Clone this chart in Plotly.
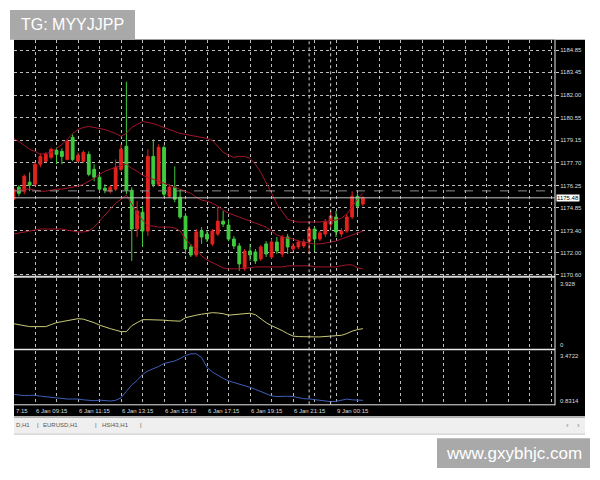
import plotly.graph_objects as go

W, H = 600, 480

# ---------------- data ----------------
bar_index = list(range(66))

open_ = [1175.39, 1176.15, 1175.90, 1176.47, 1176.34, 1177.61, 1177.80, 1178.05, 1178.49, 1178.43,
         1177.92, 1179.32, 1177.80, 1177.80, 1178.24, 1177.29, 1176.79, 1176.09, 1175.90, 1176.03,
         1177.29, 1178.75, 1175.96, 1173.50, 1174.57, 1173.37, 1178.11, 1176.34, 1178.68, 1175.58,
         1176.15, 1175.52, 1174.32, 1172.36, 1171.85, 1173.37, 1173.18, 1172.55, 1173.18, 1174.00,
         1173.75, 1172.86, 1172.42, 1170.97, 1172.10, 1172.04, 1171.60, 1172.55, 1171.72, 1172.67,
         1171.91, 1172.99, 1172.23, 1172.36, 1172.42, 1172.73, 1173.50, 1172.86, 1173.18, 1173.81,
         1174.26, 1173.18, 1173.37, 1174.26, 1175.58, 1175.08]
high = [1176.22, 1176.28, 1176.97, 1177.10, 1177.74, 1178.30, 1178.37, 1178.68, 1178.68, 1178.62,
        1179.19, 1179.51, 1178.37, 1178.49, 1178.43, 1177.61, 1176.97, 1176.34, 1176.28, 1177.92,
        1178.87, 1182.86, 1176.15, 1175.27, 1174.95, 1178.56, 1179.19, 1178.87, 1178.81, 1176.34,
        1177.48, 1176.03, 1174.51, 1172.55, 1173.50, 1173.62, 1173.37, 1173.50, 1174.89, 1174.64,
        1174.13, 1173.05, 1172.61, 1172.23, 1172.55, 1172.23, 1172.48, 1172.73, 1172.86, 1172.99,
        1173.12, 1173.18, 1172.61, 1172.80, 1172.86, 1173.69, 1173.62, 1173.37, 1174.13, 1174.64,
        1174.64, 1173.56, 1174.45, 1175.90, 1175.77, 1175.58]
low = [1175.20, 1175.58, 1175.71, 1175.90, 1176.22, 1177.42, 1177.74, 1177.92, 1177.61, 1177.61,
       1177.86, 1177.80, 1177.74, 1177.67, 1176.85, 1176.53, 1175.84, 1175.77, 1175.77, 1175.90,
       1177.17, 1175.71, 1171.47, 1172.99, 1172.36, 1173.05, 1176.15, 1176.22, 1175.52, 1175.46,
       1175.20, 1174.13, 1171.91, 1171.72, 1171.72, 1172.55, 1172.67, 1172.42, 1173.05, 1173.62,
       1172.73, 1172.23, 1170.84, 1170.84, 1171.47, 1171.28, 1171.47, 1171.72, 1171.60, 1171.91,
       1171.72, 1171.91, 1172.10, 1172.23, 1172.29, 1171.91, 1172.10, 1172.73, 1172.99, 1173.62,
       1172.99, 1172.99, 1173.25, 1174.13, 1174.26, 1174.95]
close = [1176.03, 1175.77, 1176.85, 1176.28, 1177.61, 1178.11, 1178.24, 1178.56, 1178.24, 1178.11,
         1179.06, 1177.92, 1178.18, 1178.37, 1176.97, 1176.79, 1176.03, 1175.96, 1176.15, 1177.42,
         1178.56, 1175.96, 1173.50, 1174.64, 1173.37, 1178.11, 1176.34, 1178.68, 1175.71, 1176.15,
         1175.39, 1174.26, 1172.23, 1171.85, 1173.31, 1172.99, 1172.86, 1173.37, 1174.00, 1173.81,
         1172.86, 1172.42, 1171.28, 1172.10, 1171.85, 1171.47, 1172.36, 1171.91, 1172.67, 1172.10,
         1172.99, 1172.36, 1172.42, 1172.67, 1172.67, 1173.50, 1172.86, 1173.25, 1173.94, 1174.32,
         1173.31, 1173.37, 1174.26, 1175.58, 1174.95, 1175.48]

bb_upper = [1179.25, 1179.06, 1178.81, 1178.56, 1178.43, 1178.24, 1178.30, 1178.37, 1178.62, 1178.87,
            1179.19, 1179.57, 1179.82, 1179.95, 1180.01, 1179.95, 1179.89, 1179.82, 1179.69, 1179.57,
            1179.38, 1179.57, 1179.95, 1180.14, 1180.33, 1180.26, 1180.20, 1180.07, 1179.95, 1179.82,
            1179.69, 1179.57, 1179.51, 1179.44, 1179.38, 1179.32, 1179.25, 1179.12, 1178.75, 1178.37,
            1178.18, 1178.05, 1178.11, 1178.11, 1177.99, 1177.61, 1177.10, 1176.47, 1175.77, 1175.08,
            1174.57, 1174.13, 1174.00, 1173.94, 1173.94, 1173.94, 1173.94, 1173.94, 1174.00, 1174.00,
            1174.07, 1174.19, 1174.45, 1174.95, 1175.39, 1175.77]
bb_middle = [1175.90, 1175.96, 1176.03, 1176.03, 1175.96, 1175.90, 1175.90, 1175.96, 1176.03, 1176.03,
             1176.09, 1176.15, 1176.22, 1176.34, 1176.53, 1176.72, 1176.97, 1177.17, 1177.29, 1177.42,
             1177.54, 1177.61, 1177.35, 1177.17, 1176.91, 1176.79, 1176.66, 1176.53, 1176.41, 1176.28,
             1176.15, 1176.03, 1175.90, 1175.77, 1175.52, 1175.33, 1175.27, 1175.14, 1174.95, 1174.70,
             1174.51, 1174.38, 1174.26, 1174.13, 1174.00, 1173.88, 1173.75, 1173.62, 1173.37, 1173.12,
             1172.99, 1172.93, 1172.86, 1172.73, 1172.67, 1172.61, 1172.55, 1172.55, 1172.61, 1172.67,
             1172.73, 1172.86, 1172.99, 1173.12, 1173.25, 1173.37]
bb_lower = [1173.18, 1173.25, 1173.31, 1173.37, 1173.43, 1173.50, 1173.50, 1173.50, 1173.50, 1173.50,
            1173.43, 1173.37, 1173.31, 1173.31, 1173.37, 1173.62, 1174.00, 1174.38, 1174.76, 1175.14,
            1175.39, 1175.65, 1175.08, 1174.51, 1174.07, 1173.69, 1173.69, 1173.62, 1173.62, 1173.62,
            1173.56, 1173.37, 1172.86, 1172.48, 1172.23, 1171.79, 1171.53, 1171.35, 1171.16, 1171.03,
            1170.97, 1170.97, 1170.97, 1171.03, 1171.03, 1171.09, 1171.09, 1171.09, 1171.09, 1171.09,
            1171.09, 1171.16, 1171.16, 1171.16, 1171.16, 1171.16, 1171.09, 1171.09, 1171.09, 1171.09,
            1171.09, 1171.16, 1171.22, 1171.22, 1171.03, 1170.97]

ind_yellow = [1.383, 1.328, 1.272, 1.217, 1.217, 1.217, 1.217, 1.328, 1.438, 1.494,
              1.549, 1.604, 1.660, 1.632, 1.549, 1.438, 1.300, 1.189, 1.106, 1.023,
              0.940, 0.940, 1.272, 1.438, 1.604, 1.604, 1.604, 1.604, 1.577, 1.549,
              1.521, 1.521, 1.715, 1.798, 1.853, 1.909, 1.964, 1.992, 1.975, 1.936,
              1.853, 1.881, 1.909, 1.964, 1.964, 1.881, 1.660, 1.438, 1.272, 1.145,
              0.996, 0.830, 0.692, 0.664, 0.647, 0.647, 0.647, 0.647, 0.664, 0.708,
              0.736, 0.736, 0.830, 0.968, 1.051, 1.106]
ind_blue = [1.320, 1.272, 1.257, 1.272, 1.272, 1.232, 1.198, 1.164, 1.125, 1.105,
            1.091, 1.091, 1.091, 1.052, 1.012, 1.007, 1.037, 1.027, 0.993, 1.027,
            1.149, 1.467, 1.785, 2.005, 2.299, 2.470, 2.567, 2.690, 2.836, 2.910,
            2.959, 3.081, 3.228, 3.311, 3.311, 3.130, 2.641, 2.421, 2.250, 2.103,
            1.981, 1.907, 1.834, 1.736, 1.663, 1.565, 1.467, 1.369, 1.247, 1.213,
            1.232, 1.228, 1.213, 1.149, 1.105, 1.095, 1.066, 1.037, 1.003, 0.963,
            0.978, 1.027, 1.086, 1.052, 1.037, 1.027]

price_ticks = [1184.85, 1183.45, 1182.00, 1180.55, 1179.15, 1177.70,
               1176.25, 1174.85, 1173.40, 1172.00, 1170.60]
price_tick_text = ["1184.85", "1183.45", "1182.00", "1180.55", "1179.15", "1177.70",
                   "1176.25", "1174.85", "1173.40", "1172.00", "1170.60"]
last_price = 1175.48
ask_level = 1175.92
yellow_range = [0, 3.928]
blue_range = [0.8314, 3.4722]

time_label_bars = [4, 12, 20, 28, 36, 44, 52, 60]
time_labels = ["6 Jan 09:15", "6 Jan 11:15", "6 Jan 13:15", "6 Jan 15:15",
               "6 Jan 17:15", "6 Jan 19:15", "6 Jan 21:15", "9 Jan 00:15"]
separator_bars = [55, 59]
tabs = ["D,H1", "|", "EURUSD,H1", "|", "HSI43,H1", "|"]

# ---------------- styling helpers ----------------
def px(x):
    return x / W

def py(y):
    return 1 - y / H

FONT = "Liberation Sans, Arial, sans-serif"
RED = "#e3221e"
GREEN = "#3fcc3f"
BAND = "#a3152c"
GRID = "#bdbdbd"
LBL = "#dcdcdc"

fig = go.Figure()

for band in (bb_upper, bb_middle, bb_lower):
    fig.add_trace(go.Scatter(x=bar_index, y=band, mode="lines",
                             line=dict(color=BAND, width=1),
                             xaxis="x", yaxis="y", hoverinfo="skip", showlegend=False))

fig.add_trace(go.Candlestick(
    x=bar_index, open=open_, high=high, low=low, close=close,
    increasing=dict(line=dict(color=RED, width=1), fillcolor=RED),
    decreasing=dict(line=dict(color=GREEN, width=1), fillcolor=GREEN),
    whiskerwidth=0, xaxis="x", yaxis="y", showlegend=False, hoverinfo="skip"))

fig.add_trace(go.Scatter(x=bar_index, y=ind_yellow, mode="lines",
                         line=dict(color="#c9c978", width=1),
                         xaxis="x2", yaxis="y2", hoverinfo="skip", showlegend=False))
fig.add_trace(go.Scatter(x=bar_index, y=ind_blue, mode="lines",
                         line=dict(color="#3d5fb8", width=1),
                         xaxis="x3", yaxis="y3", hoverinfo="skip", showlegend=False))

xdom = [px(14), px(555)]
xrange_ = [0.09, 100.74]
grid_vals = list(range(0, 101, 4))
xcommon = dict(domain=xdom, range=xrange_, tickvals=grid_vals, showticklabels=False,
               showgrid=True, gridcolor=GRID, griddash="dot", gridwidth=1,
               zeroline=False, showline=False, ticks="", fixedrange=True)

fig.update_layout(
    width=W, height=H,
    margin=dict(l=0, r=0, t=0, b=0),
    paper_bgcolor="white", plot_bgcolor="black",
    showlegend=False, boxgap=0.25,
    xaxis=dict(**xcommon, anchor="y", rangeslider=dict(visible=False)),
    xaxis2=dict(**xcommon, anchor="y2", matches="x"),
    xaxis3=dict(**xcommon, anchor="y3", matches="x"),
    yaxis=dict(domain=[py(277), py(40)], range=[1170.524, 1185.514], anchor="x",
               side="right", tickvals=price_ticks, ticktext=price_tick_text,
               tickfont=dict(family=FONT, size=6, color=LBL),
               ticks="outside", ticklen=3, tickcolor="#cccccc",
               showgrid=True, gridcolor=GRID, griddash="dot", gridwidth=1,
               zeroline=False, showline=False, fixedrange=True),
    yaxis2=dict(domain=[py(350), py(279)], range=yellow_range, anchor="x2",
                showgrid=False, showticklabels=False, zeroline=False, fixedrange=True),
    yaxis3=dict(domain=[py(406), py(352)], range=blue_range, anchor="x3",
                showgrid=False, showticklabels=False, zeroline=False, fixedrange=True),
)

shapes = [
    # black terminal background
    dict(type="rect", xref="paper", yref="paper", x0=px(14), x1=px(585), y0=py(418), y1=py(40),
         fillcolor="black", line=dict(width=0), layer="below"),
    # tab bar
    dict(type="rect", xref="paper", yref="paper", x0=px(14), x1=px(585), y0=py(436), y1=py(419),
         fillcolor="#efefef", line=dict(width=0), layer="below"),
    dict(type="line", xref="paper", yref="paper", x0=px(14), x1=px(585), y0=py(419), y1=py(419),
         line=dict(color="#9a9a9a", width=1)),
    dict(type="line", xref="paper", yref="paper", x0=px(14), x1=px(585), y0=py(436), y1=py(436),
         line=dict(color="#c8c8c8", width=1)),
    # panel separators and frame
    dict(type="line", xref="paper", yref="paper", x0=px(14), x1=px(555), y0=py(278), y1=py(278),
         line=dict(color="#d4d4d4", width=2)),
    dict(type="line", xref="paper", yref="paper", x0=px(14), x1=px(555), y0=py(351), y1=py(351),
         line=dict(color="#e8e8e8", width=1.5)),
    dict(type="line", xref="paper", yref="paper", x0=px(14), x1=px(555), y0=py(406.5), y1=py(406.5),
         line=dict(color="#e8e8e8", width=1)),
    dict(type="line", xref="paper", yref="paper", x0=px(555), x1=px(555), y0=py(407), y1=py(40),
         line=dict(color="#e8e8e8", width=1)),
    # ask (dashed) and bid (solid) lines
    dict(type="line", xref="paper", yref="y", x0=px(14), x1=px(555), y0=ask_level, y1=ask_level,
         line=dict(color="#8c8c8c", width=1, dash="dash")),
    dict(type="line", xref="paper", yref="y", x0=px(14), x1=px(555), y0=last_price, y1=last_price,
         line=dict(color="#c4c4c4", width=1)),
]
for b in separator_bars:
    shapes.append(dict(type="line", xref="x", yref="paper", x0=b, x1=b, y0=py(406), y1=py(40),
                       line=dict(color="#d0d0d0", width=1, dash="dot")))
# watermarks
shapes.append(dict(type="rect", xref="paper", yref="paper", x0=px(10), x1=px(135), y0=py(40), y1=py(10),
                   fillcolor="#a9a9a9", line=dict(width=0), layer="above"))
shapes.append(dict(type="rect", xref="paper", yref="paper", x0=px(437), x1=px(590), y0=py(470), y1=py(440),
                   fillcolor="#a9a9a9", line=dict(width=0), layer="above"))

annotations = []
# time labels
for b, t in zip(time_label_bars, time_labels):
    annotations.append(dict(x=b, xref="x", y=py(412.5), yref="paper", text=t, showarrow=False,
                            xanchor="left", yanchor="middle", xshift=-1,
                            font=dict(family=FONT, size=6, color=LBL)))
annotations.append(dict(x=px(14), xref="paper", y=py(412.5), yref="paper", text="7:15",
                        showarrow=False, xanchor="left", yanchor="middle",
                        font=dict(family=FONT, size=6, color=LBL)))
# current price box
annotations.append(dict(x=px(556), xref="paper", y=last_price, yref="y", text="1175.48",
                        showarrow=False, xanchor="left", yanchor="middle", bgcolor="white",
                        borderpad=0, font=dict(family=FONT, size=6, color="black")))
# sub-window scale labels
for txt, ypix in [(f"{yellow_range[1]:.3f}", 285), ("0", 346),
                  (f"{blue_range[1]:.4f}", 357), (f"{blue_range[0]:.4f}", 402.5)]:
    annotations.append(dict(x=px(558), xref="paper", y=py(ypix), yref="paper", text=txt,
                            showarrow=False, xanchor="left", yanchor="middle",
                            font=dict(family=FONT, size=6, color=LBL)))
# tabs
tab_x = [14, 35, 41, 93, 100, 138]
for t, xx in zip(tabs, tab_x):
    annotations.append(dict(x=px(xx), xref="paper", y=py(427), yref="paper", text=t,
                            showarrow=False, xanchor="left", yanchor="middle",
                            font=dict(family=FONT, size=6, color="#555555")))
for t, xx in [("‹", 567), ("›", 578)]:
    annotations.append(dict(x=px(xx), xref="paper", y=py(427), yref="paper", text=t,
                            showarrow=False, xanchor="center", yanchor="middle",
                            font=dict(family=FONT, size=8, color="#888888")))
# watermark texts
annotations.append(dict(x=px(72.5), xref="paper", y=py(25), yref="paper", text="TG: MYYJJPP",
                        showarrow=False, xanchor="center", yanchor="middle",
                        font=dict(family=FONT, size=16, color="white")))
annotations.append(dict(x=px(513.5), xref="paper", y=py(455), yref="paper", text="www.gxybhjc.com",
                        showarrow=False, xanchor="center", yanchor="middle",
                        font=dict(family=FONT, size=17, color="white")))

fig.update_layout(shapes=shapes, annotations=annotations)
fig.write_html("out.html", config={"displayModeBar": False},
               post_script="document.body.style.margin='0';document.body.style.overflow='hidden';")
